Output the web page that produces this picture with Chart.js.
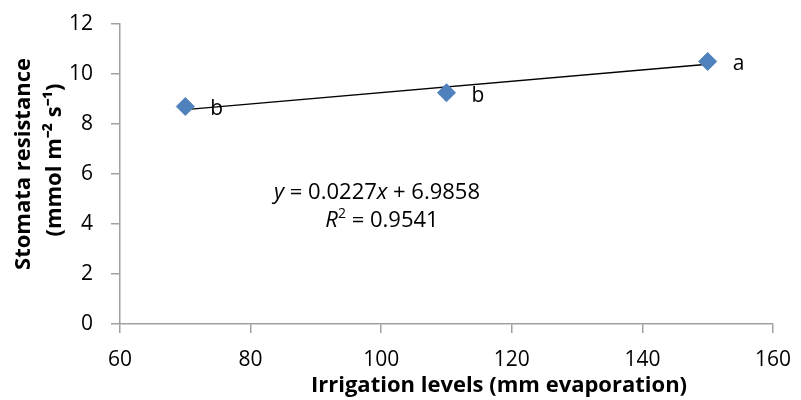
<!DOCTYPE html>
<html>
<head>
<meta charset="utf-8">
<script src="https://cdn.jsdelivr.net/npm/chart.js@4/dist/chart.umd.min.js"></script>
<style>
html,body{margin:0;padding:0;background:#fff;}
#wrap{width:801px;height:400px;position:relative;}
</style>
</head>
<body>
<div id="wrap"><canvas id="c" width="801" height="400"></canvas></div>
<script>
const irrigationLevels = [70, 110, 150];
const stomataResistance = [8.7, 9.25, 10.5];
const significanceLetters = ['b', 'b', 'a'];
const trendX = [70, 150];
const trendY = [8.575, 10.39];
const xTicks = [60, 80, 100, 120, 140, 160];
const yTicks = [0, 2, 4, 6, 8, 10, 12];
const equationText = 'y = 0.0227x + 6.9858';
const r2Text = 'R² = 0.9541';
const xTitle = 'Irrigation levels (mm evaporation)';
const yTitle = ['Stomata resistance', '(mmol m⁻² s⁻¹)'];

const FONT = "'Open Sans', 'Liberation Sans', sans-serif";
const AXIS = '#a0a0a0';

const annot = {
  id: 'annot',
  afterDatasetsDraw(chart) {
    const ctx = chart.ctx;
    const xs = chart.scales.x, ys = chart.scales.y;
    ctx.save();
    ctx.fillStyle = '#000';
    ctx.font = '21px ' + FONT;
    ctx.textBaseline = 'middle';
    ctx.textAlign = 'left';
    irrigationLevels.forEach((v, i) => {
      const px = xs.getPixelForValue(v);
      const py = ys.getPixelForValue(stomataResistance[i]);
      ctx.fillText(significanceLetters[i], px + 25, py + 3);
    });
    function drawParts(parts, cx, cy) {
      let total = 0;
      parts.forEach(p => { ctx.font = p.f; total += ctx.measureText(p.t).width; });
      let x = cx - total / 2;
      parts.forEach(p => {
        ctx.font = p.f;
        ctx.fillText(p.t, x, cy + (p.dy || 0));
        x += ctx.measureText(p.t).width;
      });
    }
    const n = '22px ' + FONT, it = 'italic 22px ' + FONT, sup = '14px ' + FONT;
    const m = equationText.match(/^y(.*)x(.*)$/);
    drawParts([{t:'y',f:it},{t:m[1],f:n},{t:'x',f:it},{t:m[2],f:n}], 377, 193);
    const r = r2Text.split('²');
    drawParts([{t:'R',f:it},{t:'2',f:sup,dy:-7},{t:r[1],f:n}], 382, 221);

    // axis titles
    ctx.font = 'bold 22px ' + FONT;
    ctx.textAlign = 'center';
    ctx.fillText(xTitle, 499, 386);
    ctx.save();
    ctx.translate(24, 164);
    ctx.rotate(-Math.PI / 2);
    ctx.fillText(yTitle[0], 0, 0);
    ctx.restore();
    ctx.save();
    ctx.translate(55, 160);
    ctx.rotate(-Math.PI / 2);
    ctx.fillText(yTitle[1], 0, 0);
    ctx.restore();
    ctx.restore();
  }
};

new Chart(document.getElementById('c'), {
  type: 'scatter',
  data: {
    datasets: [
      {
        label: 'trend',
        type: 'line',
        data: trendX.map((x, i) => ({x: x, y: trendY[i]})),
        borderColor: '#000',
        borderWidth: 1.5,
        pointRadius: 0,
        fill: false,
        order: 2
      },
      {
        label: 'Stomata resistance',
        data: irrigationLevels.map((x, i) => ({x: x, y: stomataResistance[i]})),
        pointStyle: 'rectRot',
        pointRadius: 9,
        pointHoverRadius: 9,
        backgroundColor: '#4F81BD',
        borderColor: '#4F81BD',
        borderWidth: 1,
        order: 1
      }
    ]
  },
  options: {
    responsive: false,
    animation: false,
    devicePixelRatio: 1,
    layout: {padding: {top: 24, right: 28, left: 0, bottom: 0}},
    plugins: {legend: {display: false}, tooltip: {enabled: false}},
    scales: {
      x: {
        type: 'linear',
        min: 60, max: 160,
        afterBuildTicks(s) { s.ticks = xTicks.map(v => ({value: v})); },
        afterFit(s) { s.height = 76; s.paddingLeft = 0; s.paddingRight = 0; },
        border: {color: AXIS, width: 1.5},
        grid: {drawOnChartArea: false, color: AXIS, tickLength: 9, lineWidth: 1.5},
        ticks: {color: '#000', font: {family: FONT, size: 21}, padding: 14, maxRotation: 0},
        title: {display: false}
      },
      y: {
        type: 'linear',
        min: 0, max: 12,
        afterBuildTicks(s) { s.ticks = yTicks.map(v => ({value: v})); },
        afterFit(s) { s.width = 120; s.paddingTop = 0; s.paddingBottom = 0; },
        border: {color: AXIS, width: 1.5},
        grid: {drawOnChartArea: false, color: AXIS, tickLength: 9, lineWidth: 1.5},
        ticks: {color: '#000', font: {family: FONT, size: 21}, padding: 18},
        title: {display: false}
      }
    }
  },
  plugins: [annot]
});
</script>
</body>
</html>
